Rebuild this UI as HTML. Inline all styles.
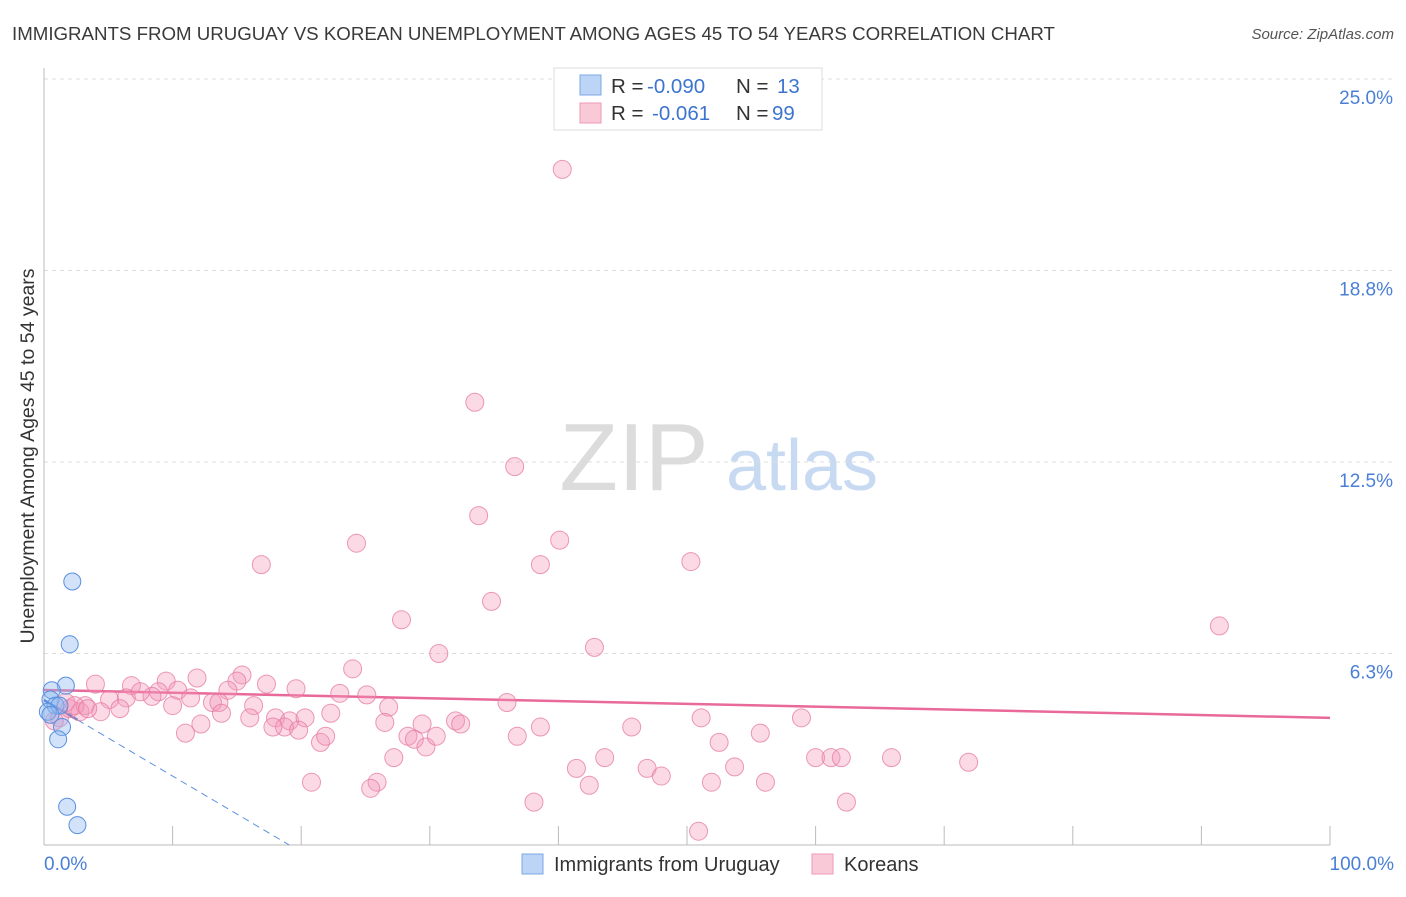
<!DOCTYPE html>
<html><head><meta charset="utf-8"><style>
body{margin:0;background:#fff;font-family:"Liberation Sans",sans-serif;}
svg text{font-family:"Liberation Sans",sans-serif;}
</style></head><body>
<svg id="chart" width="1406" height="892">
<text x="12" y="40" font-size="18.7" fill="#3a3a3a">IMMIGRANTS FROM URUGUAY VS KOREAN UNEMPLOYMENT AMONG AGES 45 TO 54 YEARS CORRELATION CHART</text>
<text x="1394" y="39" font-size="15" fill="#555" text-anchor="end" font-style="italic">Source: ZipAtlas.com</text>
<g>
<text x="634" y="490" font-size="96" fill="#dcdcdc" text-anchor="middle" font-family="Liberation Serif,serif">ZIP</text>
<text x="802" y="490" font-size="72" fill="#c8daf2" text-anchor="middle">atlas</text>
</g>
<g id="grid"></g>
<g id="axes"></g>
<text transform="translate(34,456) rotate(-90)" font-size="19.5" fill="#333" text-anchor="middle">Unemployment Among Ages 45 to 54 years</text>
<text x="44" y="870" font-size="19" fill="#4a7fd6">0.0%</text>
<text x="1394" y="870" font-size="19" fill="#4a7fd6" text-anchor="end">100.0%</text>
<g id="trends"></g>
<g id="points"></g>
<g>
<rect x="554" y="68" width="268" height="62" fill="#fff" stroke="#ddd"/>
<rect x="580" y="75" width="21" height="20" fill="#bcd4f6" stroke="#7aa7e6"/>
<text x="611" y="93" font-size="20.5" fill="#333">R = <tspan x="647" fill="#3d74d0">-0.090</tspan><tspan x="736">N = </tspan><tspan x="777" fill="#3d74d0">13</tspan></text>
<rect x="580" y="103" width="21" height="20" fill="#f9c9d8" stroke="#ee9ab7"/>
<text x="611" y="120" font-size="20.5" fill="#333">R = <tspan x="652" fill="#3d74d0">-0.061</tspan><tspan x="736">N = </tspan><tspan x="772" fill="#3d74d0">99</tspan></text>
</g>
<g>
<rect x="522" y="854" width="21" height="20" fill="#bcd4f6" stroke="#7aa7e6"/>
<text x="554" y="871" font-size="20" fill="#333">Immigrants from Uruguay</text>
<rect x="812" y="854" width="21" height="20" fill="#f9c9d8" stroke="#ee9ab7"/>
<text x="844" y="871" font-size="20" fill="#333">Koreans</text>
</g>
</svg>
<script>
const yTicks=[6.25,12.5,18.75,25.0];
const yTickLabels=["6.3%","12.5%","18.8%","25.0%"];
const xTicks=[10,20,30,40,50,60,70,80,90,100];
const blueX=[2.2,2.0,1.7,0.6,0.5,0.9,1.2,0.3,0.5,1.4,1.1,1.8,2.6];
const blueY=[8.6,6.55,5.2,5.05,4.75,4.55,4.55,4.35,4.25,3.85,3.45,1.25,0.65];
const pinkX=[40.3,33.5,36.6,33.8,40.1,24.3,16.9,38.6,50.3,34.8,27.8,42.8,30.7,91.4,24.0,15.4,4.0,6.8,9.5,11.9,15.0,17.3,19.6,23.0,25.1,8.9,10.4,14.3,8.4,5.1,6.4,7.5,11.4,13.1,13.6,16.3,18.0,19.1,20.3,22.3,26.8,36.0,10.0,5.9,4.4,13.8,16.0,18.7,19.8,17.8,26.5,29.4,32.0,32.4,38.6,45.7,51.1,58.9,55.7,28.3,28.8,29.7,30.5,36.8,21.5,21.9,11.0,12.2,27.2,43.6,60.0,61.2,62.0,65.9,71.9,41.4,46.9,48.0,53.7,52.5,51.9,56.1,42.4,20.8,25.9,25.4,38.1,62.4,50.9,1.2,2.0,2.8,1.7,3.2,0.8,2.4,3.4];
const pinkY=[22.05,14.45,12.35,10.75,9.95,9.85,9.15,9.15,9.25,7.95,7.35,6.45,6.25,7.15,5.75,5.55,5.25,5.2,5.35,5.45,5.35,5.25,5.1,4.95,4.9,5.0,5.05,5.05,4.85,4.75,4.8,5.0,4.8,4.65,4.65,4.55,4.15,4.05,4.15,4.3,4.5,4.65,4.55,4.45,4.35,4.3,4.15,3.85,3.75,3.85,4.0,3.95,4.05,3.95,3.85,3.85,4.15,4.15,3.65,3.55,3.45,3.2,3.55,3.55,3.35,3.55,3.65,3.95,2.85,2.85,2.85,2.85,2.85,2.85,2.7,2.5,2.5,2.25,2.55,3.35,2.05,2.05,1.95,2.05,2.05,1.85,1.4,1.4,0.45,4.15,4.45,4.35,4.65,4.55,4.05,4.55,4.45];
const pinkTrend=[5.06,4.15];
const blueTrend=[4.73,-0.248];
const NS='http://www.w3.org/2000/svg';
const X=p=>44+p*12.86, Y=v=>845-v*30.64;
function mk(tag,attrs,parent){const e=document.createElementNS(NS,tag);for(const k in attrs)e.setAttribute(k,attrs[k]);document.getElementById(parent).appendChild(e);return e;}
yTicks.forEach((t,i)=>{
 const l=mk('line',{x1:44,x2:1394,y1:Y(t),y2:Y(t),stroke:'#ddd','stroke-dasharray':'4,4'},'grid');
 
 
 const tx=mk('text',{x:1393,y:Y(t)+25,'font-size':19,fill:'#4a7fd6','text-anchor':'end'},'grid');
 tx.textContent=yTickLabels[i];
 
 
});
const ya=mk('line',{x1:44,x2:44,y1:68,y2:845,stroke:'#bbb'},'axes');


const xa=mk('line',{x1:44,x2:1330,y1:845,y2:845,stroke:'#bbb'},'axes');


xTicks.forEach(t=>{const l=mk('line',{x1:X(t),x2:X(t),y1:826,y2:845,stroke:'#bbb'},'axes');
 
 });
const pt=mk('line',{x1:X(0),x2:X(100),y1:Y(pinkTrend[0]),y2:Y(pinkTrend[1]),stroke:'#e8699a','stroke-width':2.5},'trends');


const xEnd=blueTrend[0]/-blueTrend[1];
const bd=mk('line',{x1:X(2.6),x2:X(xEnd),y1:Y(blueTrend[0]+blueTrend[1]*2.6),y2:Y(0),stroke:'#5b8fe0','stroke-width':1,'stroke-dasharray':'7,5'},'trends');


const bs=mk('line',{x1:X(0),x2:X(2.6),y1:Y(blueTrend[0]),y2:Y(blueTrend[0]+blueTrend[1]*2.6),stroke:'#3d74d0','stroke-width':2.5},'trends');


pinkX.forEach((x,i)=>{const c=mk('circle',{cx:X(x),cy:Y(pinkY[i]),r:9,fill:'rgba(244,150,182,0.35)',stroke:'rgba(230,120,160,0.75)','stroke-width':1},'points');
 
 });
blueX.forEach((x,i)=>{const c=mk('circle',{cx:X(x),cy:Y(blueY[i]),r:8.5,fill:'rgba(140,182,240,0.4)',stroke:'#5b8fe0','stroke-width':1},'points');
 
 });
</script>
</body></html>
